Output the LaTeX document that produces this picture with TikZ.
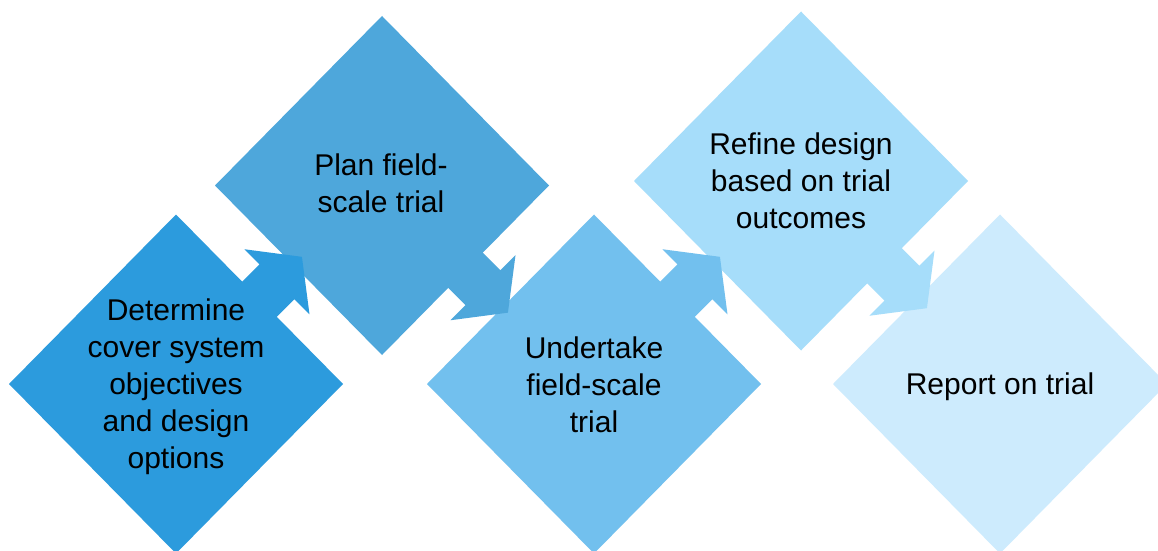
\documentclass[tikz,border=0pt]{standalone}
\usepackage{fontspec}
\setmainfont{Liberation Sans}
\usetikzlibrary{shapes.geometric,calc}
\definecolor{cA}{RGB}{44,155,221}
\definecolor{cB}{RGB}{78,167,219}
\definecolor{cC}{RGB}{114,192,238}
\definecolor{cD}{RGB}{166,221,250}
\definecolor{cE}{RGB}{205,235,253}
\tikzset{
  dia/.style={diamond, minimum width=334pt, minimum height=339pt, inner sep=0pt, outer sep=0pt, draw=none},
  lbl/.style={align=center, text=black, inner sep=0pt, font=\fontsize{30}{37}\selectfont},
}
\newcommand{\blockarrow}[3]{%
  \begin{scope}[shift={(#1)}, rotate=#2]
    \fill[#3] (-12,-24.7) -- (24.7,-24.7) -- (24.7,-46) -- (60,0) -- (24.7,46) -- (24.7,24.7) -- (-12,24.7) -- cycle;
  \end{scope}}
\begin{document}
\begin{tikzpicture}[x=1pt,y=1pt]
  \useasboundingbox (0,0) rectangle (1158,550);
  \clip (0,0) rectangle (1158,550);
  \fill[white] (0,0) rectangle (1158,550);
  \node[dia, fill=cA] (d1) at (176,166) {};
  \node[dia, fill=cB] (d2) at (382,364.5) {};
  \node[dia, fill=cC] (d3) at (594,166) {};
  \node[dia, fill=cD] (d4) at (801,369) {};
  \node[dia, fill=cE] (d5) at (1000,166) {};
  \coordinate (m1) at ($(d1.north)!0.5!(d1.east)$);
  \coordinate (m2) at ($(d2.south)!0.5!(d2.east)$);
  \coordinate (m3) at ($(d3.north)!0.5!(d3.east)$);
  \coordinate (m4) at ($(d4.south)!0.5!(d4.east)$);
  \blockarrow{m1}{45}{cA}
  \blockarrow{m2}{-45}{cB}
  \blockarrow{m3}{45}{cC}
  \blockarrow{m4}{-45}{cD}
  \node[lbl] (t1) at (176,163.5) {Determine\\cover system\\objectives\\and design\\options};
  \node[lbl] (t2) at (381,367) {Plan field-\\scale trial};
  \node[lbl] (t3) at (594,165) {Undertake\\field-scale\\trial};
  \node[lbl] (t4) at (801,369.5) {Refine design\\based on trial\\outcomes};
  \node[lbl] (t5) at (1000,163.5) {Report on trial};
\end{tikzpicture}
\end{document}
